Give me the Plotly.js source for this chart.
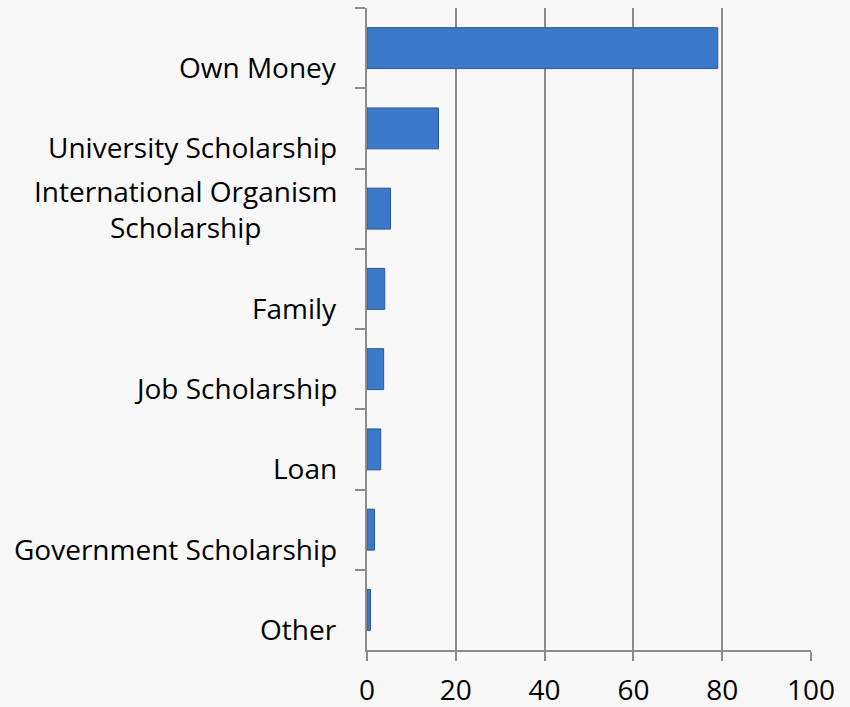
<!DOCTYPE html>
<html>
<head>
<meta charset="utf-8">
<script src="https://cdn.plot.ly/plotly-3.0.1.min.js"></script>
<style>html,body{margin:0;padding:0;background:#f8f8f8;}#chart{width:850px;height:707px;}</style>
</head>
<body>
<div id="chart"></div>
<script>
const categories = ["Own Money", "University Scholarship", "International Organism<br>Scholarship", "Family", "Job Scholarship", "Loan", "Government Scholarship", "Other"];
const values = [79, 16.1, 5.3, 4.0, 3.75, 3.1, 1.7, 0.8];
const xTicks = [0, 20, 40, 60, 80, 100];

const FONT = "Open Sans";
const labelAnnotations = categories.map(function (c) {
  const multi = c.indexOf("<br>") >= 0;
  return {
    text: c, x: 0, xref: "paper", y: c, yref: "y",
    xanchor: "right", yanchor: "middle", align: "center",
    xshift: -28, yshift: multi ? 0 : -19, showarrow: false,
    font: {family: FONT, size: 28, color: "#000", lineposition: "none"}
  };
});

const trace = {
  type: "bar", orientation: "h", x: values, y: categories,
  marker: {color: "#3c79c8", line: {color: "#2a5894", width: 1}},
  hoverinfo: "skip"
};

const layout = {
  width: 850, height: 707,
  margin: {l: 367, r: 39, t: 8, b: 57},
  paper_bgcolor: "#f8f8f8", plot_bgcolor: "rgba(0,0,0,0)",
  showlegend: false, bargap: 0.49,
  xaxis: {
    range: [0, 100], tickvals: xTicks, ticktext: xTicks.map(String),
    showgrid: true, gridcolor: "#8c8c8c", gridwidth: 2,
    showline: true, linecolor: "#8c8c8c", linewidth: 2,
    ticks: "outside", ticklen: 9, tickwidth: 2, tickcolor: "#8c8c8c",
    ticklabelstandoff: 5,
    zeroline: false, fixedrange: true,
    tickfont: {family: FONT, size: 28, color: "#000"}
  },
  yaxis: {
    type: "category", categoryorder: "array", categoryarray: categories,
    range: [categories.length - 0.5, -0.5],
    showticklabels: false, tickson: "boundaries",
    ticks: "outside", ticklen: 10, tickwidth: 2, tickcolor: "#8c8c8c",
    showline: true, linecolor: "#8c8c8c", linewidth: 2,
    showgrid: false, zeroline: false, fixedrange: true
  },
  annotations: labelAnnotations
};

Plotly.newPlot("chart", [trace], layout, {displayModeBar: false, staticPlot: true});
</script>
</body>
</html>
